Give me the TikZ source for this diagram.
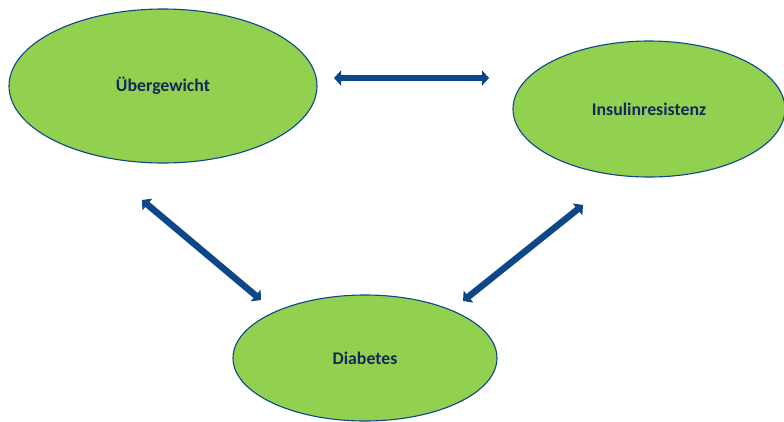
\documentclass[tikz,border=0pt]{standalone}
\usepackage{fontspec}
\setmainfont{Carlito}
\usetikzlibrary{arrows.meta,shapes.geometric}
\definecolor{fillgreen}{HTML}{92D050}
\definecolor{navy}{HTML}{14295A}
\definecolor{arrowblue}{HTML}{0D478A}
\begin{document}
\begin{tikzpicture}[x=1pt,y=-1pt,
  blob/.style={ellipse, draw=arrowblue, line width=1.1pt, fill=fillgreen, inner sep=0pt,
    font=\fontsize{17.8}{20}\selectfont\bfseries, text=navy},
  link/.style={draw=arrowblue, line width=6.5pt,
    {Triangle[length=7pt,width=15pt]}-{Triangle[length=7pt,width=15pt]}}]
\useasboundingbox (0,0) rectangle (784,421);
\node[blob, minimum width=308pt, minimum height=154pt] (ueber) at (163,86) {Übergewicht};
\node[blob, minimum width=272pt, minimum height=136pt] (insulin) at (649,109) {Insulinresistenz};
\node[blob, minimum width=264pt, minimum height=126pt] (diab) at (365,358) {Diabetes};
\coordinate (a1) at (334,78);
\coordinate (a2) at (489,78);
\coordinate (b1) at (142,200);
\coordinate (b2) at (261,300);
\coordinate (c1) at (583,205);
\coordinate (c2) at (463,301);
\draw[link] (a1) -- (a2);
\draw[link] (b1) -- (b2);
\draw[link] (c1) -- (c2);
\end{tikzpicture}
\end{document}
